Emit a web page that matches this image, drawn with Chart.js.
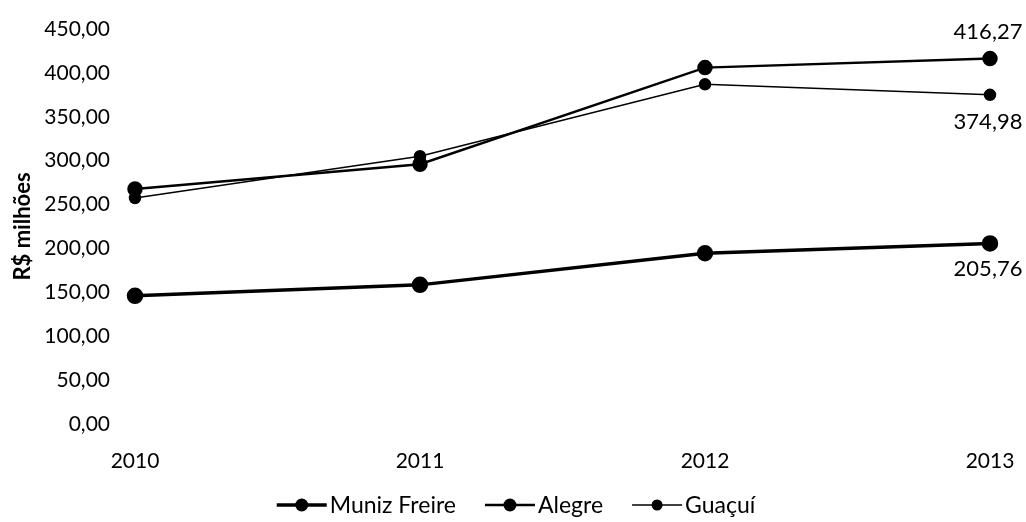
<!DOCTYPE html>
<html>
<head>
<meta charset="utf-8">
<script src="https://cdn.jsdelivr.net/npm/chart.js@4"></script>
<style>
    html, body { margin: 0; padding: 0; background: #fff; }
    #wrap { width: 1026px; height: 522px; }
</style>
</head>
<body>
<div id="wrap"><canvas id="chart" width="1026" height="522"></canvas></div>
<script>
const years = ["2010", "2011", "2012", "2013"];
const munizFreire = [146.0, 158.5, 194.5, 205.76];
const alegre = [267.7, 296.0, 406.0, 416.27];
const guacui = [257.5, 305.0, 387.0, 374.98];
const yTicks = [0, 50, 100, 150, 200, 250, 300, 350, 400, 450];

const FONT = "Lato";
const fmt = v => v.toFixed(2).replace(".", ",");

// value labels on the last point
const lastLabels = {
    id: "lastLabels",
    afterDatasetsDraw(chart) {
        const { ctx } = chart;
        const offsets = [26, -27, 27];
        ctx.save();
        ctx.font = "22px " + FONT;
        ctx.fillStyle = "#000";
        ctx.textAlign = "center";
        ctx.textBaseline = "middle";
        chart.data.datasets.forEach((ds, i) => {
            const meta = chart.getDatasetMeta(i);
            const pt = meta.data[meta.data.length - 1];
            const v = ds.data[ds.data.length - 1];
            ctx.fillText(fmt(v), pt.x - 2, pt.y + offsets[i]);
        });
        ctx.restore();
    },
};

// legend drawn by hand: line with a dot, then the name
const lineLegend = {
    id: "lineLegend",
    afterDraw(chart) {
        const { ctx } = chart;
        const y = 505, mw = 50, gap = 3, space = 29;
        ctx.save();
        ctx.font = "23px " + FONT;
        const items = chart.data.datasets.map(ds => ({ ds, w: ctx.measureText(ds.label).width }));
        const total = items.reduce((s, it) => s + mw + gap + it.w, 0) + space * (items.length - 1);
        let x = 516 - total / 2;
        items.forEach(({ ds, w }) => {
            ctx.strokeStyle = "#000";
            ctx.lineWidth = ds.borderWidth;
            ctx.beginPath();
            ctx.moveTo(x, y);
            ctx.lineTo(x + mw, y);
            ctx.stroke();
            ctx.fillStyle = "#000";
            ctx.beginPath();
            ctx.arc(x + mw / 2, y, ds.pointRadius, 0, Math.PI * 2);
            ctx.fill();
            ctx.textAlign = "left";
            ctx.textBaseline = "middle";
            ctx.fillText(ds.label, x + mw + gap, y + 1);
            x += mw + gap + w + space;
        });
        ctx.restore();
    },
};

new Chart(document.getElementById("chart"), {
    type: "line",
    data: {
        labels: years,
        datasets: [
            {
                label: "Muniz Freire",
                data: munizFreire,
                borderColor: "#000",
                backgroundColor: "#000",
                borderWidth: 3.5,
                pointRadius: 6.5,
            },
            {
                label: "Alegre",
                data: alegre,
                borderColor: "#000",
                backgroundColor: "#000",
                borderWidth: 2.5,
                pointRadius: 6.5,
            },
            {
                label: "Guaçuí",
                data: guacui,
                borderColor: "#000",
                backgroundColor: "#000",
                borderWidth: 1.5,
                pointRadius: 5.5,
            },
        ],
    },
    options: {
        responsive: false,
        animation: false,
        layout: { padding: { top: 29, right: 36, left: 8, bottom: 40 } },
        plugins: {
            tooltip: { enabled: false },
            legend: { display: false },
        },
        scales: {
            x: {
                offset: false,
                afterFit: scale => {
                    scale.height = 58;
                    scale.paddingLeft = 0;
                    scale.paddingRight = 0;
                },
                grid: { display: false, drawTicks: false },
                border: { display: false },
                ticks: { color: "#000", font: { family: FONT, size: 21 }, padding: 25 },
            },
            y: {
                min: 0,
                max: 450,
                afterBuildTicks: scale => { scale.ticks = yTicks.map(v => ({ value: v })); },
                afterFit: scale => {
                    scale.width = 127;
                    scale.paddingTop = 0;
                    scale.paddingBottom = 0;
                },
                grid: { display: false, drawTicks: false },
                border: { display: false },
                title: {
                    display: true,
                    text: "R$ milhões",
                    color: "#000",
                    font: { family: FONT, size: 22, weight: "bold" },
                    padding: 2,
                },
                ticks: {
                    color: "#000",
                    font: { family: FONT, size: 21 },
                    padding: 25,
                    callback: v => fmt(v),
                },
            },
        },
    },
    plugins: [lastLabels, lineLegend],
});
</script>
</body>
</html>
